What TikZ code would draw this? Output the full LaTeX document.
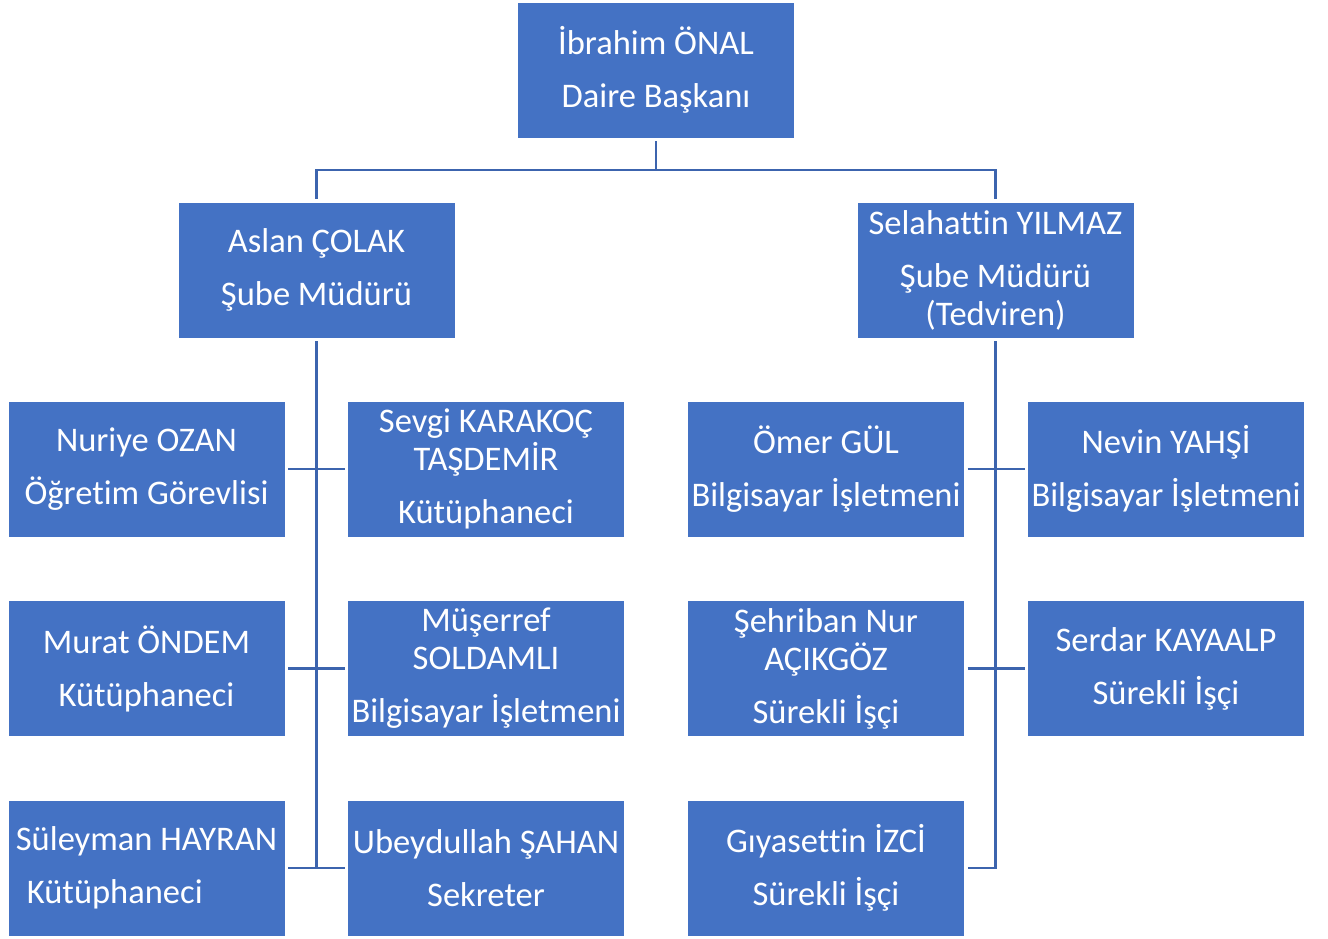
\documentclass[tikz,border=0pt]{standalone}
\usepackage{fontspec}
\setmainfont{Carlito}[Ligatures=NoCommon]
\definecolor{kutu}{HTML}{4472C4}
\definecolor{hat}{HTML}{3C64AE}
\tikzset{
  kisi/.style={fill=kutu, draw=white, line width=0.8pt, text=white,
    minimum width=277pt, minimum height=136pt, inner sep=0pt, outer sep=3pt,
    align=center, font=\fontsize{34.5}{38}\selectfont},
  bag/.style={hat, line width=2.5pt}
}
\begin{document}
\begin{tikzpicture}[x=1pt, y=-1pt]
    \useasboundingbox (0,0) rectangle (1328,938);

    \node[kisi] (baskan) at (656,70) {İbrahim ÖNAL\\[15pt]Daire Başkanı};
    \node[kisi] (colak) at (316.5,270) {Aslan ÇOLAK\\[15pt]Şube Müdürü};
    \node[kisi] (yilmaz) at (995.5,270) {Selahattin YILMAZ\\[15pt]Şube Müdürü\\(Tedviren)};

    \node[kisi] (ozan) at (146.5,469) {Nuriye OZAN\\[15pt]Öğretim Görevlisi};
    \node[kisi] (karakoc) at (486,469) {Sevgi KARAKOÇ\\TAŞDEMİR\\[15pt]Kütüphaneci};
    \node[kisi] (gul) at (826,469) {Ömer GÜL\\[15pt]Bilgisayar İşletmeni};
    \node[kisi] (yahsi) at (1166,469) {Nevin YAHŞİ\\[15pt]Bilgisayar İşletmeni};

    \node[kisi] (ondem) at (146.5,668.5) {Murat ÖNDEM\\[15pt]Kütüphaneci};
    \node[kisi] (soldamli) at (486,668.5) {Müşerref\\SOLDAMLI\\[15pt]Bilgisayar İşletmeni};
    \node[kisi] (acikgoz) at (826,668.5) {Şehriban Nur\\AÇIKGÖZ\\[15pt]Sürekli İşçi};
    \node[kisi] (kayaalp) at (1166,668.5) {Serdar KAYAALP\\[15pt]Sürekli İşçi};

    \node[kisi, align=left] (hayran) at (146.5,868) {Süleyman HAYRAN\\[15pt]\hspace{11pt}Kütüphaneci};
    \node[kisi] (sahan) at (486,868) {Ubeydullah ŞAHAN\\[15pt]Sekreter};
    \node[kisi] (izci) at (826,868) {Gıyasettin İZCİ\\[15pt]Sürekli İşçi};

    % baglantilar
    \draw[bag] (baskan.south) -- ++(0,29) coordinate (catal) -| (colak.north);
    \draw[bag] (catal) -| (yilmaz.north);
    \draw[bag] (colak.south) -- (colak.south |- hayran.east);
    \draw[bag] (yilmaz.south) |- (izci.east);
    \foreach \a/\b in {ozan/karakoc, ondem/soldamli, hayran/sahan, gul/yahsi, acikgoz/kayaalp}
        \draw[bag] (\a.east) -- (\b.west);

\end{tikzpicture}
\end{document}
